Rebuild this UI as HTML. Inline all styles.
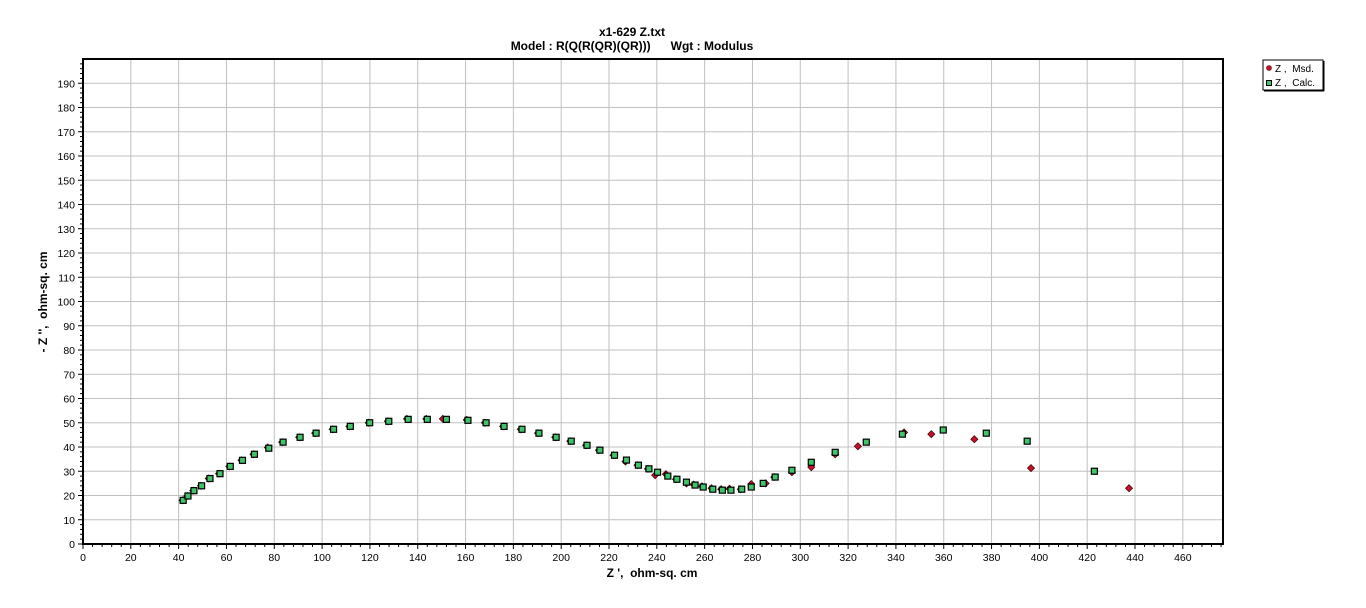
<!DOCTYPE html>
<html><head><meta charset="utf-8"><style>
body{margin:0;background:#fff;font-family:"Liberation Sans",Arial,sans-serif}
svg text{font-family:"Liberation Sans",Arial,sans-serif}
</style></head><body>
<svg id="c" width="1366" height="603" xmlns="http://www.w3.org/2000/svg">
<text x="632" y="36" text-anchor="middle" font-size="12" font-weight="bold">x1-629 Z.txt</text>
<text x="632" y="50" text-anchor="middle" font-size="12" font-weight="bold" xml:space="preserve">Model : R(Q(R(QR)(QR)))      Wgt : Modulus</text>
<text x="652" y="577" text-anchor="middle" font-size="12" font-weight="bold" xml:space="preserve">Z ',  ohm-sq. cm</text>
<text transform="translate(47,302) rotate(-90)" text-anchor="middle" font-size="12" font-weight="bold" xml:space="preserve">- Z '',  ohm-sq. cm</text>
<g id="grid"></g><g id="ticks"></g><g id="marks"></g>
<rect x="83" y="59" width="1140" height="485" fill="none" stroke="#000" stroke-width="2"/>
<g>
<rect x="1263" y="60" width="60" height="30" fill="#fff" stroke="#000" stroke-width="1"/>
<line x1="1324" y1="61" x2="1324" y2="91" stroke="#000"/><line x1="1264" y1="91" x2="1324" y2="91" stroke="#000"/>
<circle cx="1269" cy="68" r="2.5" fill="#c0142a" stroke="#600" stroke-width="0.6"/>
<text x="1275" y="72" font-size="10" xml:space="preserve">Z ,  Msd.</text>
<rect x="1266.5" y="80.5" width="5" height="5" fill="#3fc46a" stroke="#000" stroke-width="1"/>
<text x="1275" y="86" font-size="10" xml:space="preserve">Z ,  Calc.</text>
</g>
</svg>
<script>
const xTicks=[0,20,40,60,80,100,120,140,160,180,200,220,240,260,280,300,320,340,360,380,400,420,440,460];
const yTicks=[0,10,20,30,40,50,60,70,80,90,100,110,120,130,140,150,160,170,180,190];
const calcX=[41.9,43.9,46.4,49.6,53.1,57.3,61.6,66.7,71.7,77.7,83.7,90.8,97.5,104.8,111.8,119.9,127.9,136,144,152,161,168.6,176.1,183.6,190.7,197.9,204.2,210.8,216.2,222.3,227.3,232.3,236.7,240.3,244.6,248.4,252.4,256,259.4,263.4,267.4,271,275.5,279.5,284.5,289.5,296.5,304.6,314.6,327.6,342.7,359.8,377.8,394.9,423.0];
const calcY=[18,19.8,22,24,27,29,32,34.5,37,39.5,42,44,45.7,47.3,48.5,50,50.6,51.4,51.4,51.4,51,50,48.5,47.3,45.7,44,42.4,40.7,38.7,36.6,34.6,32.5,31,29.6,28,26.7,25.5,24.3,23.5,22.6,22.2,22.2,22.6,23.5,25,27.6,30.4,33.7,37.8,42,45.3,47,45.7,42.4,30];
const msdX=[41.6,43.6,46.1,49.3,52.6,56.9,61.2,66.3,71.3,77.3,83.3,90.4,97.1,104.4,111.4,119.5,127.5,135.5,143.6,150.5,160.5,168.1,175.7,183.1,190.3,197.5,203.8,210.4,215.8,221.9,226.9,231.9,236.3,239.3,243.8,248,252.4,255.4,258.9,262.9,266.9,270.4,275.1,279.5,285.5,289.1,296.5,304.6,314.6,324.1,343.4,354.8,372.8,396.5,437.5];
const msdY=[18,19.8,22,24,27,29,32,34.5,37,39.8,42,44,45.7,47.3,48.5,50,50.6,51.6,51.6,51.6,51.2,50,48.5,47.3,45.7,44,42.4,40.7,38.7,36.6,34,32.5,31,28.4,28.8,26.7,25,24.5,23.8,23,22.6,22.8,22.6,24.7,25,27.6,29.6,31.7,37,40.3,46,45.3,43.2,31.3,23];
const NS="http://www.w3.org/2000/svg";
const X0=83,X1=1223,Y0=544,Y1=59,XMAX=476.8,YMAX=200;
function sx(v){return X0+v/XMAX*(X1-X0);}
function sy(v){return Y0-v/YMAX*(Y0-Y1);}
function mk(tag,attrs,parent){const e=document.createElementNS(NS,tag);for(const k in attrs)e.setAttribute(k,attrs[k]);parent.appendChild(e);return e;}
const grid=document.getElementById('grid'),ticks=document.getElementById('ticks'),marks=document.getElementById('marks');
xTicks.forEach(t=>{const x=sx(t);
 if(t>0){const g=mk('line',{x1:x,x2:x,y1:Y1,y2:Y0,stroke:'#c0c0c0','stroke-width':1},grid);
 
 }
 const tk=mk('line',{x1:x,x2:x,y1:Y0,y2:Y0+5,stroke:'#000'},ticks);
 
 
 for(let m=1;m<5;m++){const mx=sx(t+m*4);if(mx<X1){mk('line',{x1:mx,x2:mx,y1:Y0,y2:Y0+3,stroke:'#000'},ticks);}}
 const l=mk('text',{x:x,y:Y0+17,'text-anchor':'middle','font-size':'10.5'},ticks);l.textContent=t;
 
 });
yTicks.forEach(t=>{const y=sy(t);
 if(t>0){const g=mk('line',{x1:X0,x2:X1,y1:y,y2:y,stroke:'#c0c0c0','stroke-width':1},grid);
 
 }
 const tk=mk('line',{x1:X0-5,x2:X0,y1:y,y2:y,stroke:'#000'},ticks);
 
 
 for(let m=1;m<5;m++){const my=sy(t+m*2);if(my>Y1){mk('line',{x1:X0-3,x2:X0,y1:my,y2:my,stroke:'#000'},ticks);}}
 const l=mk('text',{x:X0-8,y:y+4,'text-anchor':'end','font-size':'10.5'},ticks);l.textContent=t;
 
 });
msdX.forEach((v,i)=>{const x=sx(v),y=sy(msdY[i]);
 const p=mk('polygon',{points:`${x},${y-3.5} ${x+3.5},${y} ${x},${y+3.5} ${x-3.5},${y}`,fill:'#c8102e',stroke:'#400','stroke-width':0.8},marks);
 
 });
calcX.forEach((v,i)=>{const x=sx(v),y=sy(calcY[i]);
 const r=mk('rect',{x:x-3,y:y-3,width:6,height:6,fill:'#3fc46a',stroke:'#000','stroke-width':1.2},marks);
 
 });
</script>
</body></html>
